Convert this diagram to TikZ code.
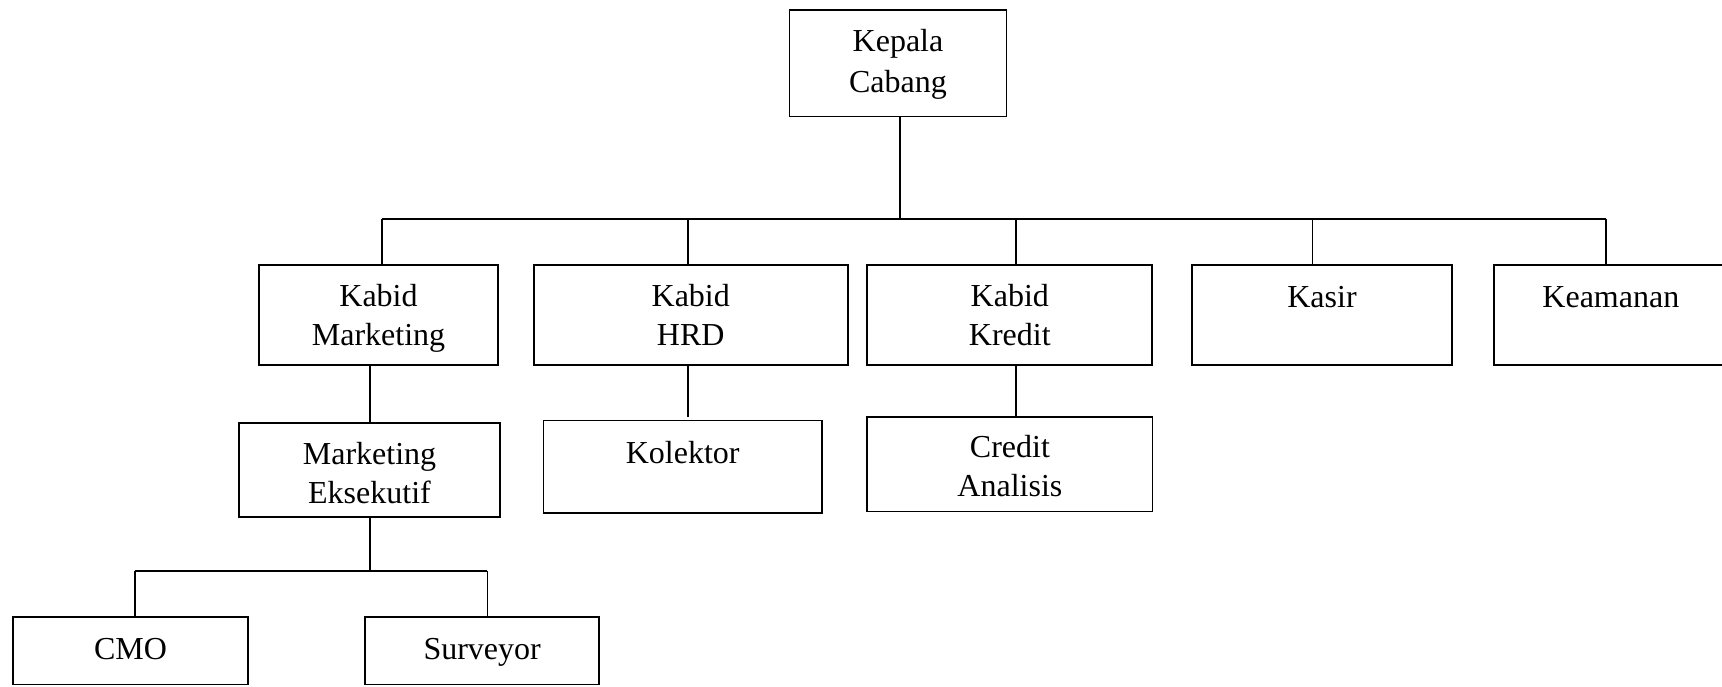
\documentclass[tikz,border=0pt]{standalone}
\usepackage{fontspec}
\setmainfont{Liberation Serif}
\usetikzlibrary{calc}
\begin{document}
\begin{tikzpicture}[x=1pt,y=-1pt,
  box/.style={draw, line width=1.8pt, rectangle, inner sep=0pt},
  lbl/.style={anchor=north, inner sep=0pt, align=center, font=\fontsize{32}{39}\selectfont},
  conn/.style={line width=1.6pt}]
\useasboundingbox (0,0) rectangle (1722,686);
% boxes
\node[box, minimum width=217pt, minimum height=106.5pt] (kc) at (898,63.25) {};
\node[box, minimum width=238.4pt, minimum height=100pt] (km) at (378.5,315) {};
\node[box, minimum width=314pt, minimum height=100pt] (hrd) at (690.75,315) {};
\node[box, minimum width=285pt, minimum height=100pt] (kk) at (1009.8,315) {};
\node[box, minimum width=260pt, minimum height=100pt] (ks) at (1322,315) {};
\node[box, minimum width=234.3pt, minimum height=100pt] (ka) at (1610.85,315) {};
\node[box, minimum width=261pt, minimum height=94.3pt] (me) at (369.5,470.15) {};
\node[box, minimum width=278.5pt, minimum height=92.5pt] (kol) at (682.75,466.75) {};
\node[box, minimum width=285.2pt, minimum height=94.2pt] (ca) at (1009.9,464.4) {};
\node[box, minimum width=234.4pt, minimum height=67.5pt] (cmo) at (130.5,650.75) {};
\node[box, minimum width=233.7pt, minimum height=67.5pt] (sur) at (482.2,650.75) {};
% labels
\node[lbl] (tkc) at ($(kc.north)+(0,14.5)$) {\strut Kepala\\[2.5pt]Cabang};
\node[lbl] (tkm) at ($(km.north)+(0,15.2)$) {\strut Kabid\\Marketing};
\node[lbl] (thrd) at ($(hrd.north)+(0,15.2)$) {\strut Kabid\\HRD};
\node[lbl] (tkk) at ($(kk.north)+(0,15.2)$) {\strut Kabid\\Kredit};
\node[lbl] (tks) at ($(ks.north)+(0,16)$) {\strut Kasir};
\node[lbl] (tka) at ($(ka.north)+(0,16)$) {\strut Keamanan};
\node[lbl] (tme) at ($(me.north)+(0,15)$) {\strut Marketing\\Eksekutif};
\node[lbl] (tkol) at ($(kol.north)+(0,16)$) {\strut Kolektor};
\node[lbl] (tca) at ($(ca.north)+(0,14)$) {\strut Credit\\Analisis};
\node[lbl] (tcmo) at ($(cmo.north)+(0,15.5)$) {\strut CMO};
\node[lbl] (tsur) at ($(sur.north)+(0,15.5)$) {\strut Surveyor};
% junction coordinates
\coordinate (t0) at (900,219);
\coordinate (b1) at (382,219);
\coordinate (b2) at (687.7,219);
\coordinate (b3) at (1015.7,219);
\coordinate (b4) at (1312.3,219);
\coordinate (b5) at (1606,219);
\coordinate (m0) at (369.7,571);
\coordinate (m1) at (135,571);
\coordinate (m2) at (487.3,571);
% connectors
\draw[conn] (kc.south -| t0) -- (t0);
\draw[conn] (b1) -- (b5);
\draw[conn] (b1) -- (b1 |- km.north);
\draw[conn] (b2) -- (b2 |- hrd.north);
\draw[conn] (b3) -- (b3 |- kk.north);
\draw[conn] (b4) -- (b4 |- ks.north);
\draw[conn] (b5) -- (b5 |- ka.north);
\draw[conn] (m0 |- km.south) -- (m0 |- me.north);
\draw[conn] (b2 |- hrd.south) -- ($(b2 |- kol.north)+(0,-3)$);
\draw[conn] (b3 |- kk.south) -- (b3 |- ca.north);
\draw[conn] (m0 |- me.south) -- (m0);
\draw[conn] (m1) -- (m2);
\draw[conn] (m1) -- (m1 |- cmo.north);
\draw[conn] (m2) -- (m2 |- sur.north);
\end{tikzpicture}
\end{document}
